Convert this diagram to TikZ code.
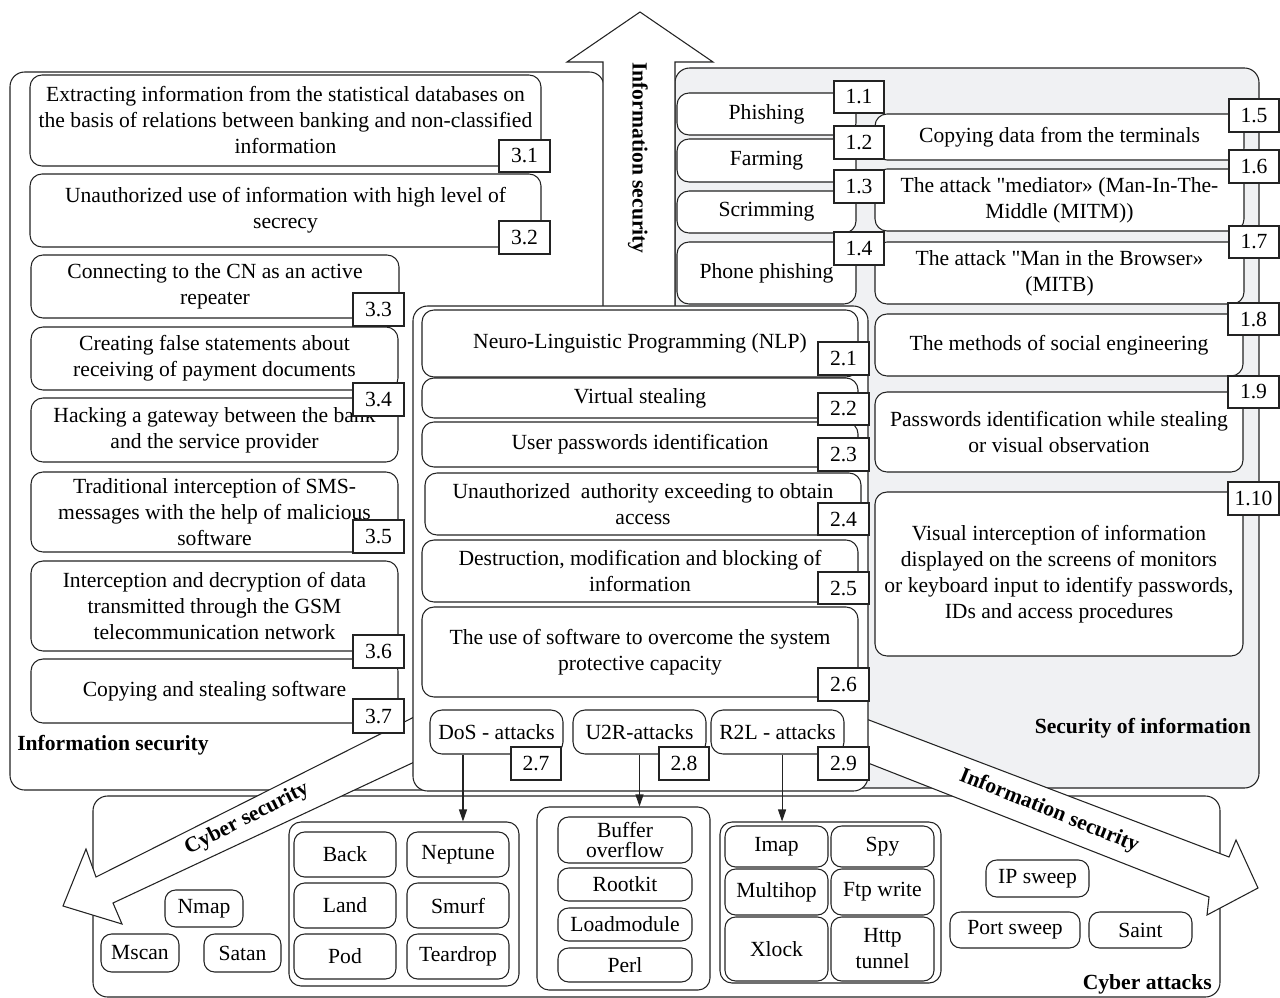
\documentclass[tikz,border=0pt]{standalone}
\usepackage{fontspec}
\setmainfont{Liberation Serif}
\usetikzlibrary{calc,arrows.meta}
\definecolor{ln}{RGB}{35,35,35}
\definecolor{gfill}{RGB}{240,241,243}
\newcommand{\bx}[7]{%
  \pgfmathsetmacro\bxcx{(#3+#5)/2}%
  \pgfmathsetmacro\bxcy{(#4+#6)/2}%
  \pgfmathsetmacro\bxw{(#5-#3)*0.75}%
  \pgfmathsetmacro\bxh{(#6-#4)*0.75}%
  \node[#1, minimum width=\bxw pt, minimum height=\bxh pt] (#2) at (\bxcx,\bxcy) {#7};%
}
\tikzset{
  base/.style={draw=ln, line width=0.8pt, fill=white, inner xsep=1pt, inner ysep=0pt,
    align=center, font=\fontsize{16.2pt}{19.5pt}\selectfont},
  item/.style={base, rounded corners=9pt},
  sitem/.style={base, rounded corners=8pt},
  grp/.style={base, rounded corners=9pt},
  outer/.style={base, rounded corners=11pt},
  gouter/.style={outer, fill=gfill},
  num/.style={base},
  lbl/.style={font=\bfseries\fontsize{16.2pt}{19.5pt}\selectfont, inner sep=0pt},
  arrowshape/.style={draw=ln, line width=0.8pt, fill=white, line join=miter},
  conn/.style={draw=ln, line width=0.8pt, -{Triangle[length=9pt,width=6pt]}}
}
\begin{document}
\begin{tikzpicture}[x=0.75pt,y=-0.75pt]
\useasboundingbox (0,0) rectangle (1280,998);
% outer containers
\bx{gouter}{graybox}{675}{68}{1259}{788}{}
\bx{outer}{leftbox}{10}{72}{604}{790}{}
\bx{outer}{botbox}{93}{796}{1220}{997}{}
% big hollow arrows
\draw[arrowshape] (603,308) -- (603,62) -- (567,62) -- (640,12) -- (713,62) -- (675,62) -- (675,308) -- cycle;
\draw[arrowshape] (440,704) -- (96,877) -- (86,849) -- (63,906) -- (122,924) -- (113,903) -- (440,750) -- cycle;
\draw[arrowshape] (840,709) -- (1229,857) -- (1236,840) -- (1258,888) -- (1207,915) -- (1209,897) -- (840,752) -- cycle;
\node[lbl, rotate=-90] (tup) at (638,158) {Information security};
\node[lbl, rotate=27] (tcyber) at (247,819) {Cyber security};
\node[lbl, rotate=-22] (tright) at (1049,811) {Information security};
% center container
\bx{outer}{cenbox}{413}{306}{868}{791}{}
% left items
\bx{item}{i31}{30}{75}{541}{166}{Extracting information from the statistical databases on\\the basis of relations between banking and non-classified\\information}
\bx{item}{i32}{30}{174}{541}{247}{Unauthorized use of information with high level of\\secrecy}
\bx{item}{i33}{31}{255}{399}{318}{Connecting to the CN as an active\\repeater}
\bx{item}{i34}{31}{327}{398}{390}{Creating false statements about\\receiving of payment documents}
\bx{item}{ihack}{31}{398}{398}{462}{Hacking a gateway between the bank\\and the service provider}
\bx{item}{i35}{31}{472}{398}{552}{Traditional interception of SMS-\\messages with the help of malicious\\software}
\bx{item}{i36}{31}{561}{398}{651}{Interception and decryption of data\\transmitted through the GSM\\telecommunication network}
\bx{item}{i37}{31}{659}{398}{723}{Copying and stealing software}
% center items
\bx{item}{i21}{422}{310}{858}{377}{Neuro-Linguistic Programming (NLP)}
\bx{item}{i22}{422}{378}{858}{418}{Virtual stealing}
\bx{item}{i23}{422}{422}{858}{467}{User passwords identification}
\bx{item}{i24}{425}{473}{861}{535}{Unauthorized\ \ authority exceeding to obtain\\access}
\bx{item}{i25}{422}{540}{858}{602}{Destruction, modification and blocking of\\information}
\bx{item}{i26}{422}{607}{858}{697}{The use of software to overcome the system\\protective capacity}
\bx{item}{dos}{430}{710}{563}{754}{DoS - attacks}
\bx{item}{u2r}{573}{710}{706}{754}{U2R-attacks}
\bx{item}{r2l}{711}{710}{844}{754}{R2L - attacks}
% right items
\bx{item}{i11}{677}{93}{856}{135}{Phishing}
\bx{item}{i12}{677}{139}{856}{182}{Farming}
\bx{item}{i13}{677}{191}{856}{233}{Scrimming}
\bx{item}{i14}{677}{242}{856}{304}{Phone phishing}
\bx{item}{i15}{875}{114}{1244}{160}{Copying data from the terminals}
\bx{item}{i16}{875}{169}{1244}{231}{The attack \textquotedbl mediator» (Man-In-The-\\Middle (MITM))}
\bx{item}{i17}{875}{242}{1244}{304}{The attack \textquotedbl Man in the Browser»\\(MITB)}
\bx{item}{i18}{875}{314}{1243}{376}{The methods of social engineering}
\bx{item}{i19}{875}{392}{1243}{472}{Passwords identification while stealing\\or visual observation}
\bx{item}{i110}{875}{492}{1243}{656}{Visual interception of information\\displayed on the screens of monitors\\or keyboard input to identify passwords,\\IDs and access procedures}
% number boxes
\bx{num}{n31}{499}{140}{550}{172}{3.1}
\bx{num}{n32}{499}{221}{550}{254}{3.2}
\bx{num}{n33}{353}{293}{404}{326}{3.3}
\bx{num}{n34}{353}{383}{404}{416}{3.4}
\bx{num}{n35}{353}{520}{404}{553}{3.5}
\bx{num}{n36}{353}{635}{404}{668}{3.6}
\bx{num}{n37}{353}{699}{404}{733}{3.7}
\bx{num}{n21}{818}{342}{869}{375}{2.1}
\bx{num}{n22}{818}{393}{869}{425}{2.2}
\bx{num}{n23}{818}{438}{869}{471}{2.3}
\bx{num}{n24}{818}{503}{869}{535}{2.4}
\bx{num}{n25}{818}{572}{869}{604}{2.5}
\bx{num}{n26}{818}{668}{869}{701}{2.6}
\bx{num}{n27}{511}{747}{561}{780}{2.7}
\bx{num}{n28}{659}{747}{709}{780}{2.8}
\bx{num}{n29}{818}{747}{869}{780}{2.9}
\bx{num}{n11}{834}{81}{884}{113}{1.1}
\bx{num}{n12}{834}{126}{884}{159}{1.2}
\bx{num}{n13}{834}{170}{884}{203}{1.3}
\bx{num}{n14}{834}{232}{884}{265}{1.4}
\bx{num}{n15}{1229}{99}{1279}{132}{1.5}
\bx{num}{n16}{1229}{150}{1279}{183}{1.6}
\bx{num}{n17}{1229}{226}{1279}{258}{1.7}
\bx{num}{n18}{1228}{303}{1279}{335}{1.8}
\bx{num}{n19}{1228}{376}{1279}{408}{1.9}
\bx{num}{n110}{1228}{482}{1279}{515}{1.10}
% bottom groups
\bx{grp}{dosg}{289}{822}{519}{986}{}
\bx{grp}{u2rg}{537}{807}{710}{990}{}
\bx{grp}{r2lg}{720}{822}{941}{983}{}
\bx{sitem}{back}{294}{832}{396}{877}{Back}
\bx{sitem}{neptune}{407}{832}{509}{877}{Neptune}
\bx{sitem}{land}{294}{883}{396}{928}{Land}
\bx{sitem}{smurf}{407}{883}{509}{928}{Smurf}
\bx{sitem}{pod}{294}{934}{396}{979}{Pod}
\bx{sitem}{teardrop}{407}{934}{509}{979}{Teardrop}
\bx{sitem}{nmap}{165}{890}{243}{927}{Nmap}
\bx{sitem}{mscan}{101}{934}{179}{972}{Mscan}
\bx{sitem}{satan}{204}{934}{281}{972}{Satan}
\bx{sitem, font=\fontsize{16.2pt}{15pt}\selectfont}{buffer}{558}{817}{692}{863}{Buffer\\overflow}
\bx{sitem}{rootkit}{558}{868}{692}{901}{Rootkit}
\bx{sitem}{loadmodule}{558}{908}{692}{941}{Loadmodule}
\bx{sitem}{perl}{558}{948}{692}{982}{Perl}
\bx{sitem}{imap}{725}{826}{828}{867}{Imap}
\bx{sitem}{spy}{831}{826}{934}{867}{Spy}
\bx{sitem}{multihop}{725}{869}{828}{915}{Multihop}
\bx{sitem}{ftp}{831}{869}{934}{915}{Ftp write}
\bx{sitem}{xlock}{725}{917}{828}{981}{Xlock}
\bx{sitem}{http}{831}{917}{934}{981}{Http\\tunnel}
\bx{sitem}{ipsweep}{986}{860}{1089}{897}{IP sweep}
\bx{sitem}{portsweep}{950}{912}{1080}{948}{Port sweep}
\bx{sitem}{saint}{1089}{912}{1192}{948}{Saint}
% container labels
\node[lbl, anchor=west] (lblis) at (17,745) {Information security};
\node[lbl, anchor=east] (lblsoi) at (1251,728) {Security of information};
\node[lbl, anchor=east] (lblca) at (1212,984) {Cyber attacks};
% connectors
\coordinate (c27) at ($(dos.south west)!0.25!(dos.south east)$);
\draw[conn] (c27) -- (c27 |- dosg.north);
\draw[conn] (u2r.south) -- (u2r.south |- u2rg.north);
\coordinate (c29) at ($(r2l.south west)!0.534!(r2l.south east)$);
\draw[conn] (c29) -- (c29 |- r2lg.north);
\end{tikzpicture}
\end{document}
